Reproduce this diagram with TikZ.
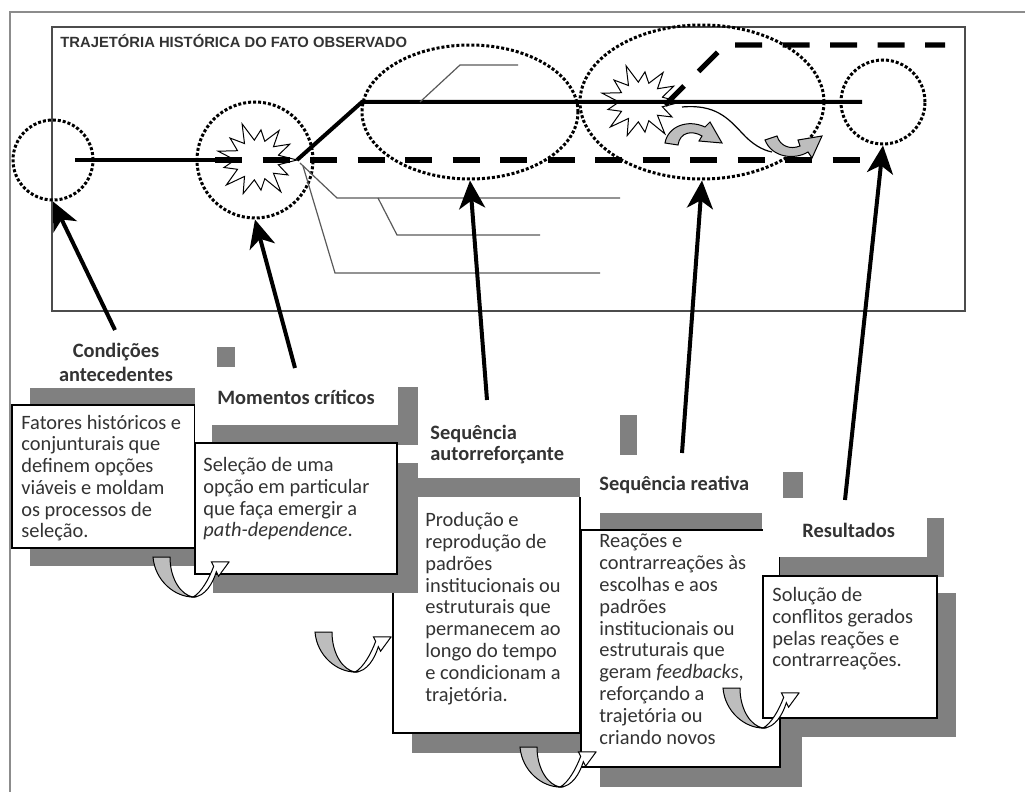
\documentclass[tikz,border=0pt]{standalone}
\usepackage{fontspec}
\setmainfont{Carlito}
\newfontfamily\titlefont{Liberation Sans}
\usetikzlibrary{shapes.geometric,arrows.meta}
\definecolor{shadow}{gray}{0.5}
\definecolor{band}{gray}{0.74}
\definecolor{ink}{gray}{0.2}
\tikzset{
  uturn/.pic={
    \filldraw[fill=band,draw=black,line width=0.5pt] (0,0) -- (17,0) .. controls (17,22) and (28,38) .. (40,40) .. controls (22,40) and (2,24) .. (0,0) -- cycle;
    \filldraw[fill=white,draw=black,line width=0.5pt] (40,40) .. controls (52,40) and (60,26) .. (63.3,14.7) -- (65.6,19.2) -- (76,5) -- (58.4,4.8) -- (60.7,9.3) .. controls (56,22) and (48,36) .. (40,40) -- cycle;
  },
  boom/.pic={
    \filldraw[fill=white,draw=black,line width=0.5pt] ({-13.85}:22 and 20)
      \foreach \r [count=\i from 0] in {40,35,42,33,39,41,34,40,36,42,33,39,37} { -- ({\i*27.69}:{\r} and {0.92*\r}) -- ({\i*27.69+13.85}:22 and 20) } -- cycle;
  }
}
\begin{document}
\begin{tikzpicture}[x=0.5pt,y=-0.5pt,
  ring/.style={draw,densely dotted,line width=1.5pt,inner sep=0},
  road/.style={line width=2pt},
  gap/.style={line width=2.6pt,dash pattern=on 13.5pt off 10.25pt},
  twig/.style={line width=0.6pt,black!65},
  turn/.style={fill=band,draw=black,line width=0.5pt},
  pointer/.style={line width=2pt,-{Stealth[length=14pt,width=13pt,inset=4pt]}},
  card/.style={fill=white,draw=black,line width=0.9pt},
  head/.style={font=\bfseries\fontsize{10.2}{12.5}\selectfont,text=ink,inner sep=0},
  body/.style={font=\fontsize{10.2}{10.9}\selectfont,text=ink,align=left,anchor=base west,inner sep=0}]
\useasboundingbox (0,0) rectangle (1025,792);

\draw[black!45,line width=1.2pt] (10,792) -- (10,12) -- (1025,12);
\draw[black!70,line width=1pt] (52,27) rectangle (965,311);
\node[anchor=base west,inner sep=0,text=ink,font=\titlefont\bfseries\fontsize{7.4}{8}\selectfont] (title) at (60,48) {TRAJETÓRIA HISTÓRICA DO FATO OBSERVADO};

\node[ring,circle,minimum size=40pt] (cA) at (53,160) {};
\node[ring,circle,minimum size=58pt] (cB) at (255,160) {};
\node[ring,ellipse,minimum width=108pt,minimum height=67pt] (cC) at (470,112) {};
\node[ring,ellipse,minimum width=122pt,minimum height=77pt] (cD) at (702,102) {};
\node[ring,circle,minimum size=42pt] (cE) at (883,102) {};
\pic (sB) at (257,160) {boom};
\pic (sD) at (641,102) {boom};

\draw[road] (75,160) -- (233,160);
\draw[gap] (215,160) -- (862,160);
\draw[road] (297,160) -- (362,102) -- (862,102);
\draw[gap] (665,105) -- (725,45) -- (945,45);
\draw[twig] (300,163) -- (337,198) -- (620,198);
\draw[twig] (378,198) -- (397,235) -- (540,235);
\draw[twig] (303,166) -- (335,273) -- (600,273);
\draw[twig] (420,102) -- (460,65) -- (518,65);
\filldraw[turn] (665,143) .. controls (668,126) and (688,119) .. (705,127) -- (710,122) -- (722,143) -- (699,141) -- (702,136) .. controls (692,130) and (680,132) .. (678,145) -- cycle;
\filldraw[turn] (765,140) -- (777,136) .. controls (780,146) and (790,150) .. (800,146) -- (798,140) -- (822,136) -- (812,158) -- (808,152) .. controls (795,160) and (772,158) .. (765,140) -- cycle;
\draw[line width=0.6pt] (682,107) .. controls (715,104) and (728,118) .. (742,133) .. controls (752,144) and (762,150) .. (772,152);

% passo 3
\fill[shadow] (418,478) rectangle (580,497);
\fill[shadow] (412,515) rectangle (580,753);
\fill[white] (393,497) rectangle (580,733);
\draw[line width=0.9pt] (393,497) -- (393,733) -- (580,733) -- (580,497);
\node[body] (tC) at (425,701) {Produção e\\reprodução de\\padrões\\institucionais ou\\estruturais que\\permanecem ao\\longo do tempo\\e condicionam a\\trajetória.};

% passo 1
\fill[shadow] (30,388) rectangle (195,406);
\fill[shadow] (30,424) rectangle (213,566);
\draw[card] (12,405) rectangle (195,548);
\node[body] (tA) at (21,538) {Fatores históricos e\\conjunturais que\\definem opções\\viáveis e moldam\\os processos de\\seleção.};

% passo 2
\fill[white] (195,367) rectangle (398,445);
\fill[shadow] (217,347) rectangle (235,367);
\fill[shadow] (212,387) rectangle (418,445);
\fill[white] (195,367) rectangle (398,425);
\fill[shadow] (213,463) rectangle (418,593);
\draw[card] (195,443) rectangle (397,574);
\node[body] (tB) at (203,537) {Seleção de uma\\opção em particular\\que faça emergir a\\\textit{path-dependence}.};

% passo 4
\fill[shadow] (620,415) rectangle (637,455);
\fill[shadow] (600,513) rectangle (762,532);
\fill[shadow] (600,549) rectangle (802,787);
\draw[card] (581,530) rectangle (780,767);
\node[body] (tD) at (599,744) {Reações e\\contrarreações às\\escolhas e aos\\padrões\\institucionais ou\\estruturais que\\geram \textit{feedbacks},\\reforçando a\\trajetória ou\\criando novos};

% passo 5
\fill[shadow] (783,472) rectangle (803,498);
\fill[shadow] (780,518) rectangle (944,577);
\fill[white] (763,498) rectangle (927,557);
\fill[shadow] (782,593) rectangle (956,737);
\draw[card] (763,576) rectangle (937,718);
\node[body] (tE) at (772,667) {Solução de\\conflitos gerados\\pelas reações e\\contrarreações.};

\pic (uA) at (153,557) {uturn};
\pic (uB) at (315,632) {uturn};
\pic (uC) at (520,747) {uturn};
\pic (uD) at (723,688) {uturn};

\node[head,align=center,anchor=base] (hA) at (116,382) {Condições\\antecedentes};
\node[head,anchor=base west] (hB) at (217,405) {Momentos críticos};
\node[head,align=left,anchor=base west,font=\bfseries\fontsize{10.2}{10.5}\selectfont] (hC) at (430,460) {Sequência\\autorreforçante};
\node[head,anchor=base west] (hD) at (599,490) {Sequência reativa};
\node[head,anchor=base west] (hE) at (802,538) {Resultados};

\coordinate (aA) at (115,330);
\coordinate (aB) at (295,368);
\coordinate (aC) at (487,400);
\coordinate (aD) at (682,453);
\coordinate (aE) at (845,500);
\draw[pointer] (aA) -- (cA.south);
\draw[pointer] (aB) -- (cB.south);
\draw[pointer] (aC) -- (cC.south);
\draw[pointer] (aD) -- (cD.south);
\draw[pointer] (aE) -- (cE.south);
\end{tikzpicture}
\end{document}
